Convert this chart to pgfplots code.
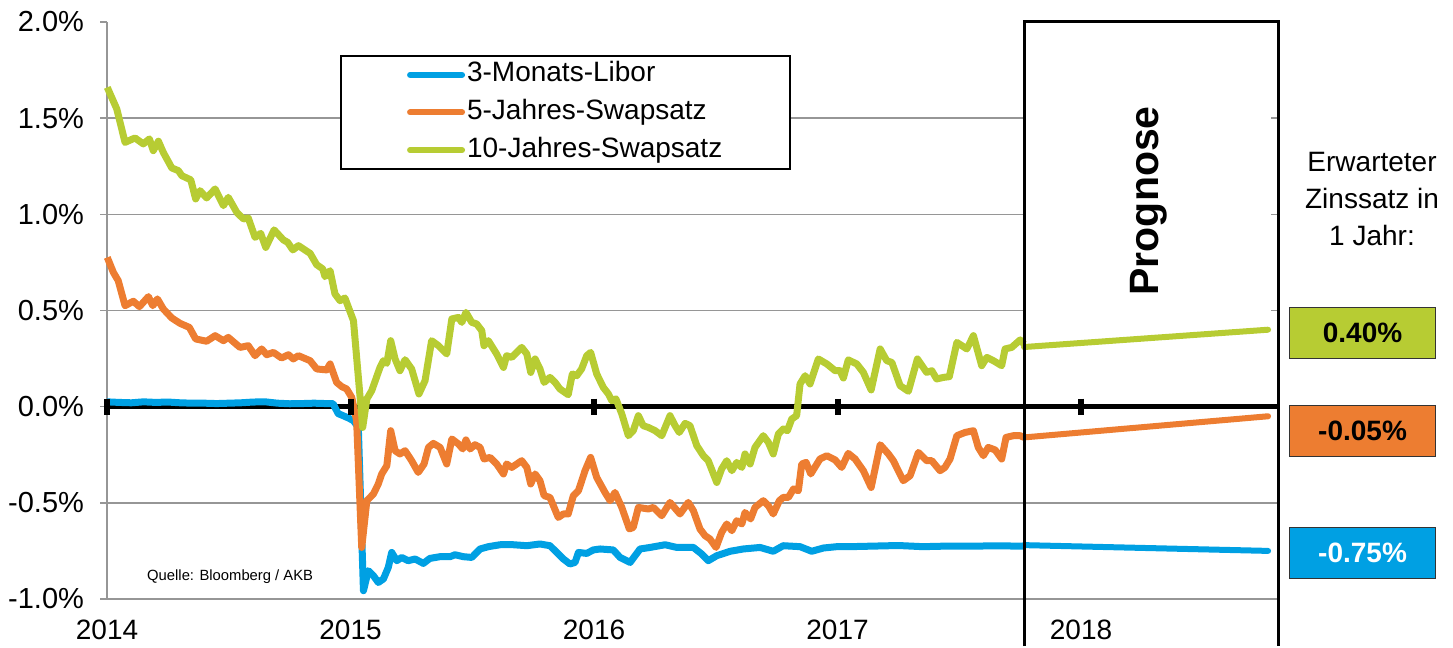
\documentclass[border=0pt]{standalone}
\usepackage{pgfplots}
\pgfplotsset{compat=1.18}
\usepackage{fontspec}
\setmainfont{Liberation Sans}
\definecolor{cblue}{RGB}{0,160,227}
\definecolor{corange}{RGB}{237,125,49}
\definecolor{cgreen}{RGB}{183,204,51}
\definecolor{cgrid}{RGB}{150,150,150}
\begin{document}
\begin{tikzpicture}
\begin{axis}[
  width=585.5pt, height=288.5pt, scale only axis,
  xmin=2014, xmax=2018.809, ymin=-1, ymax=2,
  clip=false,
  axis x line*=bottom, axis y line*=left,
  axis line style={cgrid, line width=0.8pt},
  xtick={2014,2015,2016,2017,2018},
  xticklabels={2014,2015,2016,2017,2018},
  xtick style={draw=none},
  ytick={-1,-0.5,0,0.5,1,1.5,2},
  yticklabels={-1.0\%,-0.5\%,0.0\%,0.5\%,1.0\%,1.5\%,2.0\%},
  ytick style={cgrid, line width=0.8pt},
  tick align=outside, major tick length=3.5pt,
  tick label style={font=\fontsize{14}{17}\selectfont},
  yticklabel style={font=\fontsize{14.5}{17}\selectfont, xshift=-4.5pt},
  xticklabel style={yshift=-3.3pt},
  legend style={at={(rel axis cs:0.199,0.943)}, anchor=north west, draw=black, line width=1pt, fill=white,
    font=\fontsize{14}{17}\selectfont, inner xsep=33pt, inner ysep=1pt, row sep=1.8pt,
    nodes={inner xsep=1pt, inner ysep=2pt, text height=10pt, text depth=3pt}},
  legend cell align=left,
  legend image code/.code={\draw[#1, line width=3pt, line cap=round] (0pt,0pt) -- (26pt,0pt);},
]
% grid lines
\draw[cgrid, line width=0.8pt] (axis cs:2014,0.5) -- (axis cs:2017.766,0.5);
\draw[cgrid, line width=0.8pt] (axis cs:2014,1.0) -- (axis cs:2017.766,1.0);
\draw[cgrid, line width=0.8pt] (axis cs:2014,1.5) -- (axis cs:2017.766,1.5);
\draw[cgrid, line width=0.8pt] (axis cs:2014,-0.5) -- (axis cs:2018.809,-0.5);
\draw[cgrid, line width=0.8pt] (axis cs:2018.809,0.5) -- ++(-3.5pt,0pt);
\draw[cgrid, line width=0.8pt] (axis cs:2018.809,1.0) -- ++(-3.5pt,0pt);
\draw[cgrid, line width=0.8pt] (axis cs:2018.809,1.5) -- ++(-3.5pt,0pt);
% zero line
\draw[black, line width=2.8pt] (axis cs:2014,0) -- (axis cs:2018.809,0);
\addplot[black, only marks, mark=|, mark size=4pt, mark options={line width=3pt}, forget plot]
  coordinates {(2014,0)(2015,0)(2016,0)(2017,0)(2018,0)};

% 3-Monats-Libor
\addplot[cblue, line width=3.5pt, line join=round] coordinates {
(2014.000,0.025)(2014.050,0.022)(2014.100,0.020)(2014.150,0.025)(2014.200,0.022)(2014.250,0.024)
(2014.300,0.020)(2014.350,0.018)(2014.400,0.018)(2014.450,0.016)(2014.500,0.018)(2014.550,0.020)
(2014.600,0.024)(2014.650,0.025)(2014.700,0.018)(2014.750,0.015)(2014.800,0.016)(2014.850,0.018)
(2014.900,0.016)(2014.928,0.016)(2014.949,-0.036)(2014.975,-0.050)(2014.993,-0.060)(2015.012,-0.073)
(2015.032,-0.108)(2015.053,-0.957)(2015.073,-0.853)(2015.094,-0.879)(2015.114,-0.914)(2015.135,-0.896)
(2015.155,-0.836)(2015.169,-0.758)(2015.190,-0.801)(2015.210,-0.784)(2015.237,-0.801)(2015.265,-0.792)
(2015.299,-0.815)(2015.326,-0.789)(2015.368,-0.780)(2015.409,-0.780)(2015.429,-0.770)(2015.463,-0.780)
(2015.498,-0.784)(2015.532,-0.740)(2015.566,-0.728)(2015.614,-0.718)(2015.669,-0.718)(2015.724,-0.723)
(2015.778,-0.714)(2015.819,-0.723)(2015.847,-0.758)(2015.874,-0.792)(2015.901,-0.818)(2015.922,-0.810)
(2015.936,-0.758)(2015.970,-0.763)(2015.997,-0.745)(2016.025,-0.740)(2016.079,-0.745)(2016.107,-0.784)
(2016.148,-0.810)(2016.189,-0.740)(2016.230,-0.732)(2016.292,-0.718)(2016.340,-0.732)(2016.408,-0.732)
(2016.442,-0.766)(2016.469,-0.801)(2016.504,-0.775)(2016.559,-0.752)(2016.613,-0.740)(2016.682,-0.732)
(2016.736,-0.752)(2016.777,-0.723)(2016.846,-0.728)(2016.894,-0.752)(2016.942,-0.735)(2016.997,-0.728)
(2017.051,-0.728)(2017.150,-0.725)(2017.250,-0.722)(2017.350,-0.728)(2017.450,-0.725)(2017.550,-0.725)
(2017.650,-0.724)(2017.766,-0.725)};
\addlegendentry{3-Monats-Libor}

% 5-Jahres-Swapsatz
\addplot[corange, line width=3.5pt, line join=round] coordinates {
(2014.001,0.776)(2014.026,0.698)(2014.046,0.655)(2014.074,0.525)(2014.108,0.548)(2014.133,0.520)
(2014.170,0.572)(2014.188,0.525)(2014.207,0.560)(2014.231,0.508)(2014.266,0.461)(2014.300,0.433)
(2014.338,0.412)(2014.364,0.352)(2014.409,0.340)(2014.444,0.369)(2014.478,0.343)(2014.498,0.360)
(2014.546,0.308)(2014.580,0.317)(2014.608,0.265)(2014.635,0.300)(2014.656,0.270)(2014.683,0.282)
(2014.717,0.253)(2014.745,0.270)(2014.765,0.248)(2014.786,0.265)(2014.834,0.239)(2014.861,0.196)
(2014.902,0.191)(2014.916,0.222)(2014.943,0.126)(2014.964,0.104)(2014.984,0.092)(2015.005,0.048)
(2015.025,-0.073)(2015.046,-0.732)(2015.067,-0.489)(2015.094,-0.454)(2015.114,-0.402)(2015.128,-0.350)
(2015.149,-0.307)(2015.165,-0.125)(2015.183,-0.229)(2015.203,-0.246)(2015.224,-0.229)(2015.251,-0.281)
(2015.278,-0.342)(2015.302,-0.298)(2015.320,-0.212)(2015.340,-0.191)(2015.368,-0.212)(2015.395,-0.298)
(2015.416,-0.168)(2015.443,-0.194)(2015.461,-0.220)(2015.474,-0.173)(2015.491,-0.220)(2015.511,-0.198)
(2015.532,-0.212)(2015.548,-0.272)(2015.573,-0.264)(2015.600,-0.298)(2015.628,-0.350)(2015.641,-0.298)
(2015.662,-0.316)(2015.703,-0.281)(2015.724,-0.316)(2015.740,-0.402)(2015.758,-0.350)(2015.778,-0.385)
(2015.795,-0.463)(2015.819,-0.472)(2015.853,-0.576)(2015.874,-0.558)(2015.894,-0.558)(2015.915,-0.463)
(2015.936,-0.437)(2015.963,-0.333)(2015.986,-0.264)(2016.011,-0.368)(2016.045,-0.446)(2016.066,-0.489)
(2016.086,-0.446)(2016.114,-0.524)(2016.145,-0.636)(2016.161,-0.628)(2016.182,-0.524)(2016.223,-0.532)
(2016.244,-0.524)(2016.278,-0.567)(2016.312,-0.498)(2016.353,-0.558)(2016.387,-0.498)(2016.408,-0.541)
(2016.435,-0.636)(2016.456,-0.671)(2016.476,-0.688)(2016.501,-0.732)(2016.524,-0.654)(2016.545,-0.610)
(2016.566,-0.645)(2016.586,-0.593)(2016.607,-0.610)(2016.620,-0.550)(2016.643,-0.584)(2016.661,-0.524)
(2016.695,-0.489)(2016.716,-0.515)(2016.736,-0.558)(2016.761,-0.489)(2016.777,-0.472)(2016.798,-0.472)
(2016.819,-0.428)(2016.839,-0.437)(2016.853,-0.298)(2016.871,-0.290)(2016.890,-0.350)(2016.928,-0.272)
(2016.956,-0.255)(2016.990,-0.277)(2017.017,-0.316)(2017.044,-0.243)(2017.072,-0.272)(2017.106,-0.333)
(2017.138,-0.420)(2017.175,-0.198)(2017.209,-0.246)(2017.229,-0.281)(2017.270,-0.385)(2017.298,-0.359)
(2017.332,-0.238)(2017.366,-0.281)(2017.387,-0.281)(2017.421,-0.333)(2017.441,-0.316)(2017.462,-0.272)
(2017.490,-0.151)(2017.524,-0.134)(2017.558,-0.125)(2017.578,-0.212)(2017.599,-0.255)(2017.619,-0.212)
(2017.647,-0.225)(2017.674,-0.272)(2017.692,-0.160)(2017.722,-0.151)(2017.750,-0.151)(2017.766,-0.160)};
\addlegendentry{5-Jahres-Swapsatz}

% 10-Jahres-Swapsatz
\addplot[cgreen, line width=3.5pt, line join=round] coordinates {
(2014.001,1.660)(2014.040,1.548)(2014.074,1.374)(2014.115,1.397)(2014.149,1.366)(2014.174,1.392)
(2014.190,1.331)(2014.211,1.380)(2014.231,1.322)(2014.266,1.241)(2014.293,1.227)(2014.307,1.201)
(2014.344,1.179)(2014.364,1.080)(2014.382,1.123)(2014.409,1.085)(2014.444,1.132)(2014.478,1.045)
(2014.498,1.088)(2014.533,1.010)(2014.560,0.976)(2014.580,0.981)(2014.608,0.880)(2014.631,0.901)
(2014.652,0.828)(2014.686,0.919)(2014.724,0.867)(2014.742,0.854)(2014.763,0.815)(2014.786,0.837)
(2014.834,0.797)(2014.861,0.738)(2014.886,0.716)(2014.895,0.676)(2014.916,0.707)(2014.936,0.586)
(2014.957,0.551)(2014.977,0.565)(2015.012,0.447)(2015.050,-0.108)(2015.067,0.040)(2015.087,0.083)
(2015.121,0.204)(2015.135,0.239)(2015.149,0.225)(2015.165,0.343)(2015.183,0.248)(2015.203,0.187)
(2015.224,0.244)(2015.251,0.196)(2015.281,0.066)(2015.306,0.135)(2015.333,0.343)(2015.361,0.317)
(2015.395,0.274)(2015.416,0.456)(2015.443,0.464)(2015.457,0.438)(2015.474,0.490)(2015.498,0.438)
(2015.518,0.430)(2015.539,0.395)(2015.548,0.317)(2015.566,0.343)(2015.600,0.274)(2015.628,0.204)
(2015.641,0.265)(2015.662,0.256)(2015.703,0.308)(2015.724,0.274)(2015.740,0.178)(2015.758,0.248)
(2015.778,0.196)(2015.795,0.126)(2015.819,0.152)(2015.840,0.126)(2015.860,0.092)(2015.894,0.062)
(2015.911,0.170)(2015.929,0.161)(2015.949,0.196)(2015.970,0.265)(2015.986,0.282)(2016.011,0.170)
(2016.038,0.100)(2016.059,0.066)(2016.073,0.031)(2016.090,0.040)(2016.114,-0.038)(2016.141,-0.151)
(2016.161,-0.125)(2016.182,-0.047)(2016.202,-0.099)(2016.223,-0.108)(2016.251,-0.125)(2016.278,-0.151)
(2016.312,-0.047)(2016.333,-0.099)(2016.350,-0.134)(2016.374,-0.087)(2016.394,-0.099)(2016.422,-0.203)
(2016.449,-0.255)(2016.469,-0.281)(2016.504,-0.394)(2016.524,-0.324)(2016.545,-0.281)(2016.566,-0.333)
(2016.586,-0.290)(2016.607,-0.316)(2016.620,-0.246)(2016.641,-0.298)(2016.661,-0.212)(2016.695,-0.151)
(2016.716,-0.186)(2016.736,-0.246)(2016.757,-0.142)(2016.777,-0.116)(2016.794,-0.125)(2016.812,-0.064)
(2016.832,-0.047)(2016.846,0.118)(2016.867,0.161)(2016.887,0.118)(2016.921,0.248)(2016.956,0.222)
(2016.990,0.187)(2017.010,0.187)(2017.024,0.149)(2017.044,0.243)(2017.079,0.222)(2017.106,0.178)
(2017.138,0.087)(2017.175,0.300)(2017.202,0.239)(2017.223,0.230)(2017.257,0.109)(2017.291,0.080)
(2017.328,0.248)(2017.366,0.178)(2017.387,0.187)(2017.407,0.144)(2017.435,0.152)(2017.459,0.156)
(2017.490,0.334)(2017.531,0.300)(2017.558,0.369)(2017.592,0.213)(2017.613,0.256)(2017.640,0.239)
(2017.674,0.213)(2017.688,0.300)(2017.715,0.308)(2017.750,0.347)(2017.766,0.325)};
\addlegendentry{10-Jahres-Swapsatz}

% Prognose
\addplot[cgreen, line width=3pt, line cap=round, forget plot] coordinates {(2017.766,0.31)(2018.768,0.40)};
\addplot[corange, line width=3pt, line cap=round, forget plot] coordinates {(2017.766,-0.16)(2018.768,-0.05)};
\addplot[cblue, line width=3pt, line cap=round, forget plot] coordinates {(2017.766,-0.72)(2018.768,-0.75)};

\draw[black, line width=1.5pt] (axis cs:2017.766,-1.245) -- (axis cs:2017.766,2) -- (axis cs:2018.809,2) -- (axis cs:2018.809,-1.245);
\node[rotate=90, font=\bfseries\fontsize{20.5}{24}\selectfont] at (axis cs:2018.279,1.07) {Prognose};

\node[align=center, font=\fontsize{14}{18.5}\selectfont] at (axis cs:2019.195,1.082) {Erwarteter\\Zinssatz in\\1 Jahr:};
\node[draw=black!80, line width=0.6pt, fill=cgreen, minimum width=73pt, minimum height=25.5pt, inner sep=0pt,
  font=\bfseries\fontsize{14}{17}\selectfont] at (axis cs:2019.156,0.382) {0.40\%};
\node[draw=black!80, line width=0.6pt, fill=corange, minimum width=73pt, minimum height=25.5pt, inner sep=0pt,
  font=\bfseries\fontsize{14}{17}\selectfont] at (axis cs:2019.156,-0.127) {-0.05\%};
\node[draw=black!80, line width=0.6pt, fill=cblue, text=white, minimum width=73pt, minimum height=25.5pt, inner sep=0pt,
  font=\bfseries\fontsize{14}{17}\selectfont] at (axis cs:2019.156,-0.762) {-0.75\%};

\node[anchor=west, font=\fontsize{7.4}{9}\selectfont] at (axis cs:2014.136,-0.884) {Quelle: Bloomberg / AKB};

\path (rel axis cs:-0.0914,-0.0815) rectangle (rel axis cs:1.1494,1.0381);
\end{axis}
\end{tikzpicture}
\end{document}
